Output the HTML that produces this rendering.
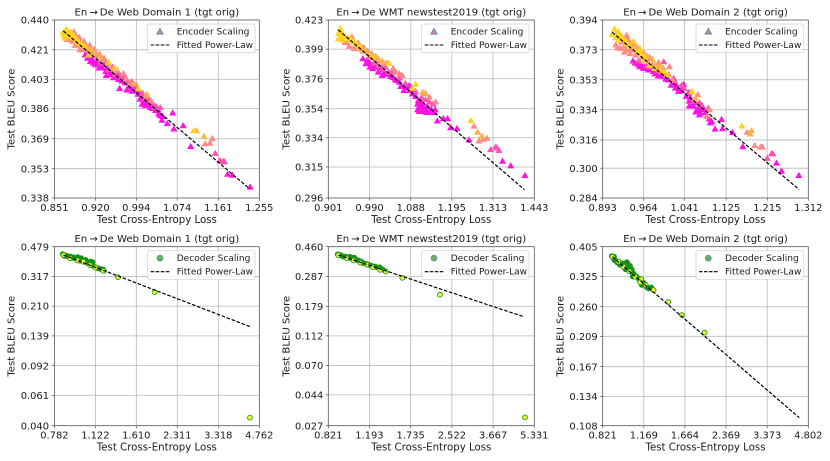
<!DOCTYPE html>
<html lang="en">
<head>
<meta charset="utf-8">
<title>Test BLEU Score vs Cross-Entropy Loss</title>
<style>
html,body{margin:0;padding:0;background:#fff;width:830px;height:461px;overflow:hidden}
svg{display:block;filter:blur(0.3px)}
text{font-family:"DejaVu Sans","Liberation Sans",sans-serif;fill:#1a1a1a}
</style>
</head>
<body>
<svg id="figure" width="830" height="461" viewBox="0 0 830 461" xmlns="http://www.w3.org/2000/svg"></svg>
<script>
// ---------- tick labels ----------
const xTicksEnc1 = ["0.851","0.920","0.994","1.074","1.161","1.255"];
const yTicksEnc1 = ["0.440","0.421","0.403","0.386","0.369","0.353","0.338"];
const xTicksEnc2 = ["0.901","0.990","1.088","1.195","1.313","1.443"];
const yTicksEnc2 = ["0.423","0.399","0.376","0.354","0.334","0.315","0.296"];
const xTicksEnc3 = ["0.893","0.964","1.041","1.125","1.215","1.312"];
const yTicksEnc3 = ["0.394","0.373","0.353","0.334","0.316","0.300","0.284"];
const xTicksDec1 = ["0.782","1.122","1.610","2.311","3.318","4.762"];
const yTicksDec1 = ["0.479","0.317","0.210","0.139","0.092","0.061","0.040"];
const xTicksDec2 = ["0.821","1.193","1.735","2.522","3.667","5.331"];
const yTicksDec2 = ["0.460","0.287","0.179","0.112","0.070","0.044","0.027"];
const xTicksDec3 = ["0.821","1.169","1.664","2.369","3.373","4.802"];
const yTicksDec3 = ["0.405","0.325","0.260","0.209","0.167","0.134","0.108"];

// ---------- fitted power-law end points ----------
const fitLossEnc1 = [0.8656,1.233];
const fitBleuEnc1 = [0.4329,0.3425];
const fitLossEnc2 = [0.9218,1.411];
const fitBleuEnc2 = [0.4147,0.3010];
const fitLossEnc3 = [0.909,1.2899];
const fitBleuEnc3 = [0.3852,0.2884];
const fitLossDec1 = [0.8465,4.386];
const fitBleuDec1 = [0.4267,0.1582];
const fitLossDec2 = [0.899,4.826];
const fitBleuDec2 = [0.4035,0.1521];
const fitLossDec3 = [0.8923,4.443];
const fitBleuDec3 = [0.3761,0.1146];

// ---------- encoder scaling, Web Domain 1 ----------
const enc1MagentaLoss = [.902,.906,.911,.916,.920,.926,.932,.938,.939,.946,.952,.961,.967,.973,.980,.986,.992,.997,.963,.976,.986,1.001,1.005,1.011,1.021,1.024,1.018,1.031,1.037,1.040,1.0434,1.0541,1.0673,1.0648,1.0863,1.102,1.182,1.1925,1.2335,
 .905,.910,.915,.922,.928,.934,.940,.945,.950,.955,.960,.965,.970,.977,.984,.990,.995,1.000,1.003,1.008,1.013,1.016,1.025,1.028,1.035,1.045];
const enc1MagentaBleu = [.4179,.4159,.4139,.4129,.4119,.4099,.4099,.4079,.4053,.4059,.4040,.4030,.4020,.4010,.3987,.3975,.3962,.3943,.3976,.3968,.3960,.3914,.3885,.3876,.3866,.3885,.3904,.3848,.3830,.3820,.3794,.3775,.3745,.3835,.3763,.3649,.3502,.3497,.3436,
 .4195,.4170,.4150,.4135,.4115,.4120,.4095,.4080,.4065,.4055,.4050,.4035,.4025,.4010,.3995,.3980,.3965,.3945,.3925,.3905,.3895,.3880,.3860,.3875,.3855,.3815];
const enc1PinkLoss = [.928,.943,.955,.965,.976,.988,1.008,1.018,1.029,1.040,1.1545,1.1647,1.172,1.175,
 .935,.950,.960,.972,.985,.995,1.005,1.012,1.025,1.033];
const enc1PinkBleu = [.4129,.4089,.4059,.4046,.4020,.3995,.3918,.3914,.3866,.3866,.3612,.3574,.3570,.3567,
 .4145,.4105,.4075,.4055,.4015,.3990,.3950,.3925,.3890,.3870];
const enc1SalmonLoss = [.877,.885,.893,.883,.893,.899,.905,.914,.922,.932,.949,.970,.983,1.014,1.022,1.1325,1.143,1.148,
 .872,.880,.888,.895,.900,.908,.915,.925,.885,.892,.900,.910,.918,.927,.935,.942,.958,.975];
const enc1SalmonBleu = [.4283,.4239,.4211,.4326,.4264,.4253,.4231,.4199,.4179,.4149,.4099,.4065,.4010,.3933,.3904,.3663,.3667,.3692,
 .4275,.4265,.4250,.4235,.4215,.4205,.4185,.4165,.4310,.4290,.4265,.4240,.4215,.4185,.4160,.4125,.4085,.4035];
const enc1OrangeLoss = [.928,1.014,1.1138,1.13,.905,.912,.918,.990];
const enc1OrangeBleu = [.4169,.3943,.3735,.3703,.4225,.4215,.4190,.4005];
const enc1GoldLoss = [.870,.865,.871,.876,.880,.885,.869,.890,.908,.943,.955,.998,1.1083,.868,.874,.878,.883,.887,.892,.866,.873,.896,.900];
const enc1GoldBleu = [.4340,.4321,.4314,.4304,.4293,.4283,.4304,.4264,.4179,.4134,.4097,.3975,.3735,.4285,.4295,.4320,.4300,.4270,.4255,.4305,.4330,.4245,.4235];

// ---------- encoder scaling, WMT newstest2019 ----------
const enc2MagentaLoss = [.975,.982,.991,.9975,1.01,1.019,1.039,1.055,1.063,1.071,1.084,1.092,1.107,1.109,1.109,1.122,1.135,1.148,1.118,1.156,1.172,1.1836,1.1917,1.2092,1.2427,1.342,1.367,1.4125,
 .985,.99,1.0,1.005,1.015,1.025,1.03,1.045,1.05,1.06,1.07,1.08,1.085,1.095,1.10,1.105,1.112,1.115,1.125,1.13,1.14,1.105,1.117,1.128,1.15];
const enc2MagentaBleu = [.3915,.3876,.3850,.3838,.3812,.3786,.3778,.3748,.3703,.3673,.3710,.3649,.3600,.3556,.3522,.3522,.3515,.3515,.3560,.3456,.3472,.3472,.3409,.3404,.3327,.3188,.3158,.3098,
 .3905,.3885,.3865,.385,.383,.3805,.3795,.377,.3755,.3735,.3705,.3695,.3675,.3655,.363,.3575,.354,.358,.354,.3555,.3535,.3535,.3525,.3515,.3535];
const enc2PinkLoss = [1.000,1.027,1.043,1.075,1.115,1.135,1.306,1.321,1.325,1.331,.99,1.01,1.02,1.035,1.06,1.09,1.10,1.125,1.145];
const enc2PinkBleu = [.3880,.3850,.3810,.3725,.3620,.3590,.3263,.3281,.3274,.3257,.3925,.386,.3835,.381,.377,.3695,.3665,.3605,.3575];
const enc2SalmonLoss = [.936,.951,.965,.958,.973,.988,1.004,1.051,1.067,1.152,1.135,1.257,1.2715,1.2835,1.295,
 .925,.94,.945,.955,.963,.97,.977,.985,.995,1.01,1.022,1.03,1.045,1.06,1.125];
const enc2SalmonBleu = [.4045,.4090,.4040,.3995,.3990,.3960,.3920,.3815,.3785,.3590,.3625,.3420,.3320,.3331,.3338,
 .4085,.4045,.4015,.4000,.4005,.4015,.4005,.3975,.3955,.3905,.3875,.388,.384,.380,.365];
const enc2OrangeLoss = [.980,1.004,1.118,1.125,1.2676,1.2796,.965,.975,.99,1.01,1.02];
const enc2OrangeBleu = [.3985,.3935,.3660,.3655,.3379,.3353,.4,.3975,.3955,.3915,.3895];
const enc2GoldLoss = [.926,.922,.929,.936,.943,.925,.951,.996,1.035,1.092,1.100,1.2483,.93,.935,.94,.948,.955,.922,.93,.96,.968];
const enc2GoldBleu = [.4160,.4118,.4118,.4095,.4080,.4095,.4063,.3930,.3880,.3690,.3720,.3458,.412,.4095,.4075,.407,.405,.4075,.4065,.4035,.402];

// ---------- encoder scaling, Web Domain 2 ----------
const enc3MagentaLoss = [.949,.957,.9635,.9725,.982,.991,1.001,1.010,1.015,1.023,1.029,1.039,1.044,1.052,1.055,1.063,1.068,1.072,1.079,1.085,1.092,1.102,1.1154,1.1175,1.1386,1.1605,1.2362,1.248,1.2889,
 .945,.955,.96,.965,.975,.985,.995,1.005,1.018,1.025,1.03,1.035,1.048,1.05,1.06,1.065,1.058,1.075,1.082,1.095,1.09,1.05,1.07];
const enc3MagentaBleu = [.3640,.3617,.3605,.3595,.3585,.3556,.3552,.3530,.3496,.3477,.3456,.3500,.3425,.3415,.3363,.3328,.3350,.3322,.3343,.3302,.3262,.3225,.3282,.3227,.3204,.3122,.3029,.2985,.2961,
 .3655,.363,.3625,.3615,.3595,.357,.3555,.3535,.3515,.3495,.3475,.346,.3445,.3395,.3385,.334,.3365,.3355,.3325,.327,.3285,.3365,.331];
const enc3PinkLoss = [.976,.990,1.001,1.020,1.040,1.060,1.075,1.2148,1.225,1.228,.955,.97,.985,1.0,1.02,1.035,1.05,1.07,1.088];
const enc3PinkBleu = [.3617,.3590,.3650,.3540,.3475,.3395,.3370,.3056,.3083,.3081,.3655,.3625,.3605,.358,.353,.3495,.345,.3385,.335];
const enc3SalmonLoss = [.923,.9335,.934,.939,.946,.953,.9695,.9915,1.012,1.017,1.067,1.085,1.0905,1.170,1.187,1.2,1.204,
 .915,.925,.93,.94,.95,.96,.97,.98,.935,.945,.955,.965,.975,.99,1.0,1.01,.918,.93,.94];
const enc3SalmonBleu = [.3741,.3730,.3832,.3786,.3752,.3718,.3672,.3644,.3617,.3530,.3436,.3302,.3342,.3206,.3128,.3120,.3120,
 .3765,.3785,.3755,.373,.3695,.3675,.3655,.363,.381,.3775,.374,.3705,.368,.3625,.3605,.3565,.3745,.3715,.3705];
const enc3OrangeLoss = [.958,.985,1.062,1.1797,1.1768,.95,.96,.97,.98,.995];
const enc3OrangeBleu = [.3720,.3630,.3415,.3215,.3196,.376,.3715,.369,.3665,.3625];
const enc3GoldLoss = [.913,.9087,.916,.9215,.928,.9335,.946,.958,.9655,1.001,1.007,1.0555,1.1586,.92,.925,.915,.92,.935,.94,.95,.958,.965,.975,.985,.995];
const enc3GoldBleu = [.3876,.3837,.3844,.3825,.3802,.3786,.3791,.3706,.3683,.3585,.3563,.3456,.3243,.3855,.3825,.3815,.38,.377,.3755,.3725,.3735,.3655,.3625,.3605,.3595];

// ---------- decoder scaling ----------
const dec1GreenLoss = [.8415,.8587,.8846,.9109,.938,.9575,.9803,1.0094,1.0395,1.0705,1.1024,1.152,1.1864,1.2109,
 .85,.87,.90,.925,.95,.97,.995,1.02,1.055,1.085,1.125,1.17,1.2,.96,.99,1.03,1.075,1.095];
const dec1GreenBleu = [.4326,.4208,.4169,.4092,.4073,.4054,.3944,.3944,.3835,.3835,.3662,.3545,.3496,.3432,
 .4230,.4235,.4185,.4140,.4100,.4040,.3990,.3910,.3830,.3770,.3600,.3520,.3500,.4150,.4090,.3990,.3900,.3870];
const dec1YellowLoss = [.8465,.8975,.9576,1.0094,1.0705,1.122,1.204,1.370,1.892,4.386];
const dec1YellowBleu = [.4267,.4087,.3958,.3887,.371,.359,.343,.3135,.255,.0447];

const dec2GreenLoss = [.8936,.9128,.9405,.9696,.9995,1.0302,1.0618,1.0945,1.1281,1.1805,1.2353,1.2734,1.3405,1.3733,
 .905,.925,.955,.985,1.015,1.045,1.08,1.11,1.155,1.21,1.255,1.30,1.32,1.0,1.04,1.31];
const dec2GreenBleu = [.4077,.4013,.393,.3889,.3848,.3808,.3729,.3651,.3538,.3465,.3357,.3322,.3219,.3136,
 .4065,.400,.394,.390,.3875,.379,.3705,.362,.3515,.342,.336,.331,.326,.3925,.3865,.3315];
const dec2YellowLoss = [.899,.97,1.031,1.0956,1.164,1.23,1.315,1.3846,1.6075,2.262,4.90];
const dec2YellowBleu = [.4035,.383,.371,.3577,.3467,.332,.3186,.3105,.281,.2148,.0308];

const dec3GreenLoss = [.887,.9,.9209,.995,1.015,1.039,.995,1.054,1.0692,1.063,1.116,1.1654,1.2166,1.245,1.149,
 .95,.96,.975,.985,1.005,1.025,1.03,1.01,1.04,1.055,1.08,1.095,1.13,1.18,1.2,1.23,.91,.93,.905,1.0];
const dec3GreenBleu = [.378,.3716,.3653,.3581,.3581,.3511,.3452,.3426,.3326,.3246,.3206,.3105,.2978,.3,.3052,
 .3545,.357,.358,.352,.352,.347,.353,.3615,.3435,.3355,.328,.3255,.316,.307,.3,.2975,.3665,.3605,.3765,.3425];
const dec3YellowLoss = [.8923,.9396,.981,1.0327,1.0847,1.1426,1.1325,1.189,1.2706,1.4416,1.621,1.971];
const dec3YellowBleu = [.3761,.3626,.3494,.3376,.3246,.3183,.3113,.3052,.294,.2691,.2445,.2147];

// ---------- panels: frame layout and references to the arrays above ----------
const colGold = "#ffd320", colOrange = "#ffb24a", colSalmon = "#ff8a88", colPink = "#ff52b0", colMagenta = "#ff12e4";
const colGreen = "#138f13", colYellow = "#f6f832", edgeGreen = "#1b9a1b";
const title1 = "En\u2009\u2192\u2009De Web Domain 1 (tgt orig)";
const title2 = "En\u2009\u2192\u2009De WMT newstest2019 (tgt orig)";
const title3 = "En\u2009\u2192\u2009De Web Domain 2 (tgt orig)";

const panels = [
 {id:"encoder-web-domain-1",kind:"enc",title:title1,left:54.4,right:259.3,top:20,bottom:198,xt:xTicksEnc1,yt:yTicksEnc1,fx:fitLossEnc1,fy:fitBleuEnc1,yLabelX:12,tickR:49,legL:147.7,
  groups:[[enc1MagentaLoss,enc1MagentaBleu,colMagenta],[enc1PinkLoss,enc1PinkBleu,colPink],[enc1SalmonLoss,enc1SalmonBleu,colSalmon],[enc1OrangeLoss,enc1OrangeBleu,colOrange],[enc1GoldLoss,enc1GoldBleu,colGold]]},
 {id:"encoder-wmt-newstest",kind:"enc",title:title2,left:328.3,right:534.3,top:20,bottom:198,xt:xTicksEnc2,yt:yTicksEnc2,fx:fitLossEnc2,fy:fitBleuEnc2,yLabelX:287,tickR:323.3,legL:421.7,
  groups:[[enc2MagentaLoss,enc2MagentaBleu,colMagenta],[enc2PinkLoss,enc2PinkBleu,colPink],[enc2SalmonLoss,enc2SalmonBleu,colSalmon],[enc2OrangeLoss,enc2OrangeBleu,colOrange],[enc2GoldLoss,enc2GoldBleu,colGold]]},
 {id:"encoder-web-domain-2",kind:"enc",title:title3,left:602.7,right:808.3,top:20,bottom:198,xt:xTicksEnc3,yt:yTicksEnc3,fx:fitLossEnc3,fy:fitBleuEnc3,yLabelX:561,tickR:597.7,legL:696,
  groups:[[enc3MagentaLoss,enc3MagentaBleu,colMagenta],[enc3PinkLoss,enc3PinkBleu,colPink],[enc3SalmonLoss,enc3SalmonBleu,colSalmon],[enc3OrangeLoss,enc3OrangeBleu,colOrange],[enc3GoldLoss,enc3GoldBleu,colGold]]},
 {id:"decoder-web-domain-1",kind:"dec",title:title1,left:54.4,right:259.3,top:246.7,bottom:425.7,xt:xTicksDec1,yt:yTicksDec1,fx:fitLossDec1,fy:fitBleuDec1,yLabelX:12,tickR:49,legL:147.7,
  groups:[[dec1GreenLoss,dec1GreenBleu,colGreen],[dec1YellowLoss,dec1YellowBleu,colYellow]]},
 {id:"decoder-wmt-newstest",kind:"dec",title:title2,left:328.3,right:534.3,top:246.7,bottom:425.7,xt:xTicksDec2,yt:yTicksDec2,fx:fitLossDec2,fy:fitBleuDec2,yLabelX:287,tickR:323.3,legL:421.7,
  groups:[[dec2GreenLoss,dec2GreenBleu,colGreen],[dec2YellowLoss,dec2YellowBleu,colYellow]]},
 {id:"decoder-web-domain-2",kind:"dec",title:title3,left:602.7,right:808.3,top:246.7,bottom:425.7,xt:xTicksDec3,yt:yTicksDec3,fx:fitLossDec3,fy:fitBleuDec3,yLabelX:561,tickR:597.7,legL:696,
  groups:[[dec3GreenLoss,dec3GreenBleu,colGreen],[dec3YellowLoss,dec3YellowBleu,colYellow]]}
];

const NS = "http://www.w3.org/2000/svg";
const fig = document.getElementById("figure");

function make(parent, tag, attrs, text) {
  const el = document.createElementNS(NS, tag);
  for (const k in attrs) el.setAttribute(k, attrs[k]);
  if (text !== undefined) el.textContent = text;
  parent.appendChild(el);
  return el;
}
function logScale(d0, d1, r0, r1) {
  const a = Math.log(d0), b = Math.log(d1);
  return v => r0 + (Math.log(v) - a) / (b - a) * (r1 - r0);
}

panels.forEach(p => {
  const g = make(fig, "g", {});
  
  

  const xv = p.xt.map(Number), yv = p.yt.map(Number);
  const X = logScale(xv[0], xv[xv.length - 1], p.left, p.right);
  const Y = logScale(yv[0], yv[yv.length - 1], p.top, p.bottom);

  // grid and ticks
  xv.forEach((v, i) => {
    const x = X(v);
    const gl = make(g, "line", {x1:x, x2:x, y1:p.top, y2:p.bottom, stroke:"#b8b8b8", "stroke-width":0.8});
    
    
    const tk = make(g, "line", {x1:x, x2:x, y1:p.bottom, y2:p.bottom + 2.6, stroke:"#333", "stroke-width":0.6});
    
    
    const lb = make(g, "text", {x:x, y:p.bottom + 12.8, "text-anchor":"middle", "font-size":9.9}, p.xt[i]);
    
    
  });
  yv.forEach((v, i) => {
    const y = Y(v);
    const gl = make(g, "line", {x1:p.left, x2:p.right, y1:y, y2:y, stroke:"#b8b8b8", "stroke-width":0.8});
    
    
    const tk = make(g, "line", {x1:p.left - 2.6, x2:p.left, y1:y, y2:y, stroke:"#333", "stroke-width":0.6});
    
    
    const lb = make(g, "text", {x:p.tickR, y:y + 3.6, "text-anchor":"end", "font-size":9.9}, p.yt[i]);
    
    
  });

  // data marks
  p.groups.forEach(group => {
    const lossVals = group[0], bleuVals = group[1], color = group[2];
    lossVals.forEach((v, i) => {
      const cx = X(v), cy = Y(bleuVals[i]);
      let m;
      if (p.kind === "enc") {
        m = make(g, "polygon", {points:(cx - 3.6) + "," + (cy + 2.7) + " " + (cx + 3.6) + "," + (cy + 2.7) + " " + cx + "," + (cy - 3.5), fill:color});
      } else {
        m = make(g, "circle", {cx:cx, cy:cy, r:2.4, fill:color, stroke:edgeGreen, "stroke-width":0.9});
      }
      
      
    });
  });

  // fitted power law
  const pts = p.fx.map((v, i) => X(v) + "," + Y(p.fy[i])).join(" ");
  const fit = make(g, "polyline", {points:pts, fill:"none", stroke:"#000", "stroke-width":1.2, "stroke-dasharray":"3.6 1.7"});
  
  

  // frame
  const frame = make(g, "rect", {x:p.left, y:p.top, width:p.right - p.left, height:p.bottom - p.top, fill:"none", stroke:"#555", "stroke-width":0.7});
  
  

  // titles
  const cx = (p.left + p.right) / 2;
  const t = make(g, "text", {x:cx, y:p.top - 4.6, "text-anchor":"middle", "font-size":10.1}, p.title);
  
  
  const xl = make(g, "text", {x:cx, y:p.bottom + 25, "text-anchor":"middle", "font-size":10.2}, "Test Cross-Entropy Loss");
  
  
  const yc = (p.top + p.bottom) / 2;
  const yl = make(g, "text", {x:p.yLabelX, y:yc, "text-anchor":"middle", "dominant-baseline":"central", "font-size":10.1, transform:"rotate(-90 " + p.yLabelX + " " + yc + ")"}, "Test BLEU Score");
  
  

  // legend
  const ly = p.top + 4;
  const lg = make(g, "g", {});
  
  
  make(lg, "rect", {x:p.legL, y:ly, width:107.3, height:28.6, rx:1.5, fill:"#fff", "fill-opacity":0.82, stroke:"#d0d0d0", "stroke-width":0.7});
  const mx = p.legL + 12.3, my = ly + 7.4;
  let handle;
  if (p.kind === "enc") {
    handle = make(lg, "polygon", {points:(mx - 3.2) + "," + (my + 2.6) + " " + (mx + 3.2) + "," + (my + 2.6) + " " + mx + "," + (my - 3), fill:"#ee8088", stroke:"#5a84b8", "stroke-width":0.9});
  } else {
    handle = make(lg, "circle", {cx:mx, cy:my, r:2.9, fill:"#6db34d", stroke:"#5a94c0", "stroke-width":0.9});
  }
  
  
  const ll = make(lg, "line", {x1:p.legL + 3, x2:p.legL + 22.4, y1:ly + 21, y2:ly + 21, stroke:"#000", "stroke-width":1.1, "stroke-dasharray":"3.6 1.4"});
  
  
  const e1 = make(lg, "text", {x:p.legL + 29, y:ly + 10.4, "font-size":9.05}, p.kind === "enc" ? "Encoder Scaling" : "Decoder Scaling");
  
  
  const e2 = make(lg, "text", {x:p.legL + 29, y:ly + 24, "font-size":9.05}, "Fitted Power-Law");
  
  
});
</script>
</body>
</html>
